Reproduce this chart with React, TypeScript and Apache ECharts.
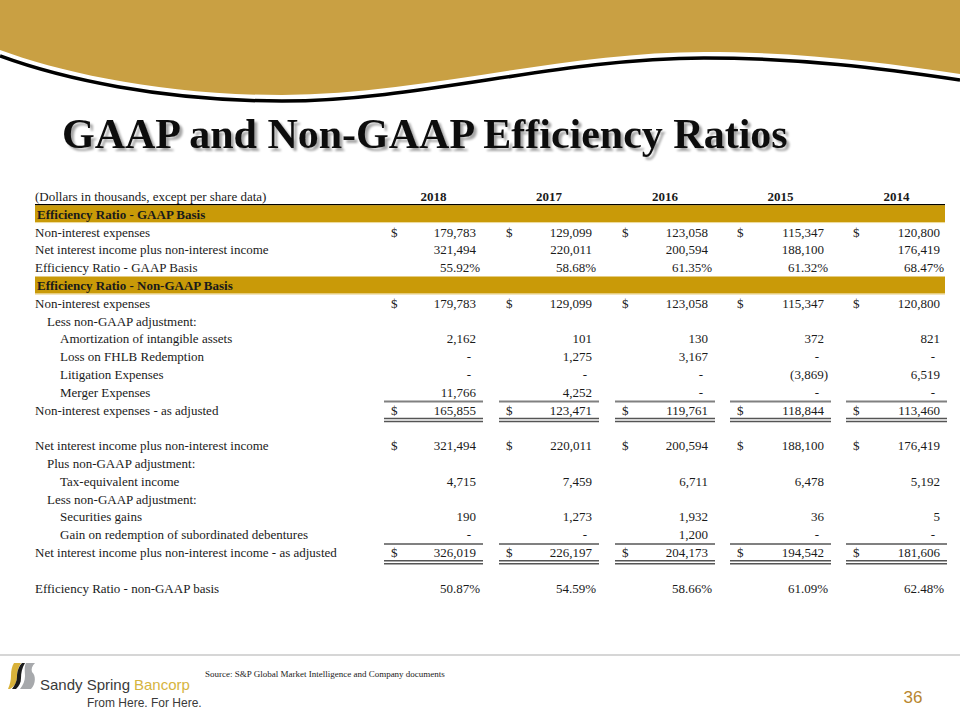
import React, { useEffect, useRef } from 'react';
import * as echarts from 'echarts';

// ---------- data ----------
const years = ['2018', '2017', '2016', '2015', '2014'];
const headerLabel = '(Dollars in thousands, except per share data)';
const nonInterestExpenses = [179783, 129099, 123058, 115347, 120800];
const netInterestIncome = [321494, 220011, 200594, 188100, 176419];
const gaapEfficiencyRatio = [55.92, 58.68, 61.35, 61.32, 68.47];
const amortizationOfIntangibles = [2162, 101, 130, 372, 821];
const lossOnFhlbRedemption = [0, 1275, 3167, 0, 0];
const litigationExpenses = [0, 0, 0, -3869, 6519];
const mergerExpenses = [11766, 4252, 0, 0, 0];
const nonInterestExpensesAdjusted = [165855, 123471, 119761, 118844, 113460];
const taxEquivalentIncome = [4715, 7459, 6711, 6478, 5192];
const securitiesGains = [190, 1273, 1932, 36, 5];
const gainOnDebentureRedemption = [0, 0, 1200, 0, 0];
const netInterestIncomeAdjusted = [326019, 226197, 204173, 194542, 181606];
const nonGaapEfficiencyRatio = [50.87, 54.59, 58.66, 61.09, 62.48];

type Kind = 'header' | 'band' | 'value' | 'text' | 'blank' | 'total' | 'percent';
type Row = { label: string; kind: Kind; values?: number[]; level?: number; dollar?: boolean };

const rows: Row[] = [
  { label: headerLabel, kind: 'header' },
  { label: 'Efficiency Ratio - GAAP Basis', kind: 'band' },
  { label: 'Non-interest expenses', kind: 'value', values: nonInterestExpenses, dollar: true },
  { label: 'Net interest income plus non-interest income', kind: 'value', values: netInterestIncome },
  { label: 'Efficiency Ratio - GAAP Basis', kind: 'percent', values: gaapEfficiencyRatio },
  { label: 'Efficiency Ratio - Non-GAAP Basis', kind: 'band' },
  { label: 'Non-interest expenses', kind: 'value', values: nonInterestExpenses, dollar: true },
  { label: 'Less non-GAAP adjustment:', kind: 'text', level: 1 },
  { label: 'Amortization of intangible assets', kind: 'value', values: amortizationOfIntangibles, level: 2 },
  { label: 'Loss on FHLB Redemption', kind: 'value', values: lossOnFhlbRedemption, level: 2 },
  { label: 'Litigation Expenses', kind: 'value', values: litigationExpenses, level: 2 },
  { label: 'Merger Expenses', kind: 'value', values: mergerExpenses, level: 2 },
  { label: 'Non-interest expenses - as adjusted', kind: 'total', values: nonInterestExpensesAdjusted, dollar: true },
  { label: '', kind: 'blank' },
  { label: 'Net interest income plus non-interest income', kind: 'value', values: netInterestIncome, dollar: true },
  { label: 'Plus non-GAAP adjustment:', kind: 'text', level: 1 },
  { label: 'Tax-equivalent income', kind: 'value', values: taxEquivalentIncome, level: 2 },
  { label: 'Less non-GAAP adjustment:', kind: 'text', level: 1 },
  { label: 'Securities gains', kind: 'value', values: securitiesGains, level: 2 },
  { label: 'Gain on redemption of subordinated debentures', kind: 'value', values: gainOnDebentureRedemption, level: 2 },
  { label: 'Net interest income plus non-interest income - as adjusted', kind: 'total', values: netInterestIncomeAdjusted, dollar: true },
  { label: '', kind: 'blank' },
  { label: 'Efficiency Ratio - non-GAAP basis', kind: 'percent', values: nonGaapEfficiencyRatio },
];

// ---------- layout (table units = px from table left) ----------
const TABLE_W = 910;
const DOLLAR_X = [356, 471, 587, 702, 818];
const NUM_RIGHT = [441, 557, 673, 789, 905];
const INDENT = [0, 12, 25];
const SERIF = '"Liberation Serif", "Times New Roman", serif';
const SANS = '"Liberation Sans", Arial, sans-serif';
const INK = '#1a1a1a';
const BAND = '#C99A08';
const FS = 13;

const fmt = (v: number) => Math.abs(v).toLocaleString('en-US');

echarts.graphic.registerShape(
  'waveFill',
  echarts.graphic.extendPath(
    'M0,0 L960,0 L960,74 C880,62 800,52 704,52 C560,52 420,95 282,95 C160,95 60,72 0,50 Z',
    {}
  )
);
echarts.graphic.registerShape(
  'waveLine',
  echarts.graphic.extendPath(
    'M0,56 C60,78 160,101 282,101 C420,101 560,58 704,58 C800,58 880,68 960,80',
    {}
  )
);
echarts.graphic.registerShape(
  'logoGold',
  echarts.graphic.extendPath(
    'M14,663 L21,663 C18,668 17,672 17,677 C17,682 15,686 10,689 L8,689 C10,684 11,680 11,676 C11,670 12,666 14,663 Z',
    {}
  )
);
echarts.graphic.registerShape(
  'logoBlack',
  echarts.graphic.extendPath(
    'M22,663 L25,663 C22,668 21,673 21,678 C21,683 19,686 16,689 L12,689 C15,685 17,681 17,677 C17,671 19,666 22,663 Z',
    {}
  )
);
echarts.graphic.registerShape(
  'logoGray',
  echarts.graphic.extendPath(
    'M26,663 L35,663 C32,666 31,669 32,672 C36,675 36,684 31,689 L20,689 C23,685 25,681 25,676 C25,671 24,667 26,663 Z',
    {}
  )
);

function textEl(text: string, x: number, y: number, o: any = {}) {
  const align = o.align || 'left';
  const style: any = {
    text,
    fill: o.fill || INK,
    fontFamily: o.family || SERIF,
    fontSize: o.size || FS,
    fontWeight: o.bold ? 'bold' : 'normal',
    textAlign: align,
    textVerticalAlign: 'middle',
    align,
    verticalAlign: 'middle',
  };
  if (o.shadow) {
    style.textShadowColor = o.shadow;
    style.textShadowBlur = 2;
    style.textShadowOffsetX = 3;
    style.textShadowOffsetY = 3;
  }
  return { type: 'text', x, y, silent: true, style };
}

export default function App() {
  const ref = useRef<HTMLDivElement>(null);

  useEffect(() => {
    if (!ref.current) return;
    const chart = echarts.init(ref.current, undefined, { renderer: 'svg' });

    const renderItem = (params: any, api: any) => {
      const idx = api.value(1);
      const row = rows[params.dataIndex];
      const [x0, yc] = api.coord([0, idx]);
      const h = api.size([0, 1])[1];
      const xAt = (v: number) => api.coord([v, idx])[0];
      const xEnd = xAt(TABLE_W);
      const top = yc - h / 2;
      const bottom = yc + h / 2;
      const children: any[] = [];

      if (row.kind === 'band') {
        children.push({ type: 'rect', shape: { x: x0, y: top, width: xEnd - x0, height: h }, style: { fill: BAND } });
        children.push({ type: 'line', shape: { x1: x0, y1: bottom - 0.5, x2: xEnd, y2: bottom - 0.5 }, style: { stroke: '#F2E2AE', lineWidth: 1 } });
        children.push(textEl(row.label, x0 + 2, yc, { bold: true }));
      } else if (row.kind === 'header') {
        children.push(textEl(row.label, x0, yc));
        years.forEach((y, j) => {
          children.push(textEl(y, (xAt(DOLLAR_X[j]) + xAt(NUM_RIGHT[j])) / 2, yc, { bold: true, align: 'center' }));
        });
        children.push({ type: 'line', shape: { x1: x0, y1: bottom - 0.5, x2: xEnd, y2: bottom - 0.5 }, style: { stroke: '#000', lineWidth: 1.5 } });
      } else if (row.kind !== 'blank') {
        children.push(textEl(row.label, x0 + INDENT[row.level || 0], yc));
        if (row.values) {
          row.values.forEach((v, j) => {
            const r = xAt(NUM_RIGHT[j]);
            if (row.dollar) children.push(textEl('$', xAt(DOLLAR_X[j]), yc));
            if (row.kind === 'percent') {
              children.push(textEl(v.toFixed(2) + '%', r + 4, yc, { align: 'right' }));
            } else if (v === 0) {
              children.push(textEl('-', r - 5, yc, { align: 'right' }));
            } else if (v < 0) {
              children.push(textEl('(' + fmt(v) + ')', r + 4, yc, { align: 'right' }));
            } else {
              children.push(textEl(fmt(v), r, yc, { align: 'right' }));
            }
            if (row.kind === 'total') {
              const a = xAt(DOLLAR_X[j] - 7);
              const b = xAt(NUM_RIGHT[j] + 7);
              children.push({ type: 'line', shape: { x1: a, y1: top + 0.5, x2: b, y2: top + 0.5 }, style: { stroke: '#808080', lineWidth: 2 } });
              children.push({ type: 'line', shape: { x1: a, y1: bottom - 0.5, x2: b, y2: bottom - 0.5 }, style: { stroke: '#555', lineWidth: 1.5 } });
              children.push({ type: 'line', shape: { x1: a, y1: bottom + 2.5, x2: b, y2: bottom + 2.5 }, style: { stroke: '#555', lineWidth: 1.5 } });
            }
          });
        }
      }
      return { type: 'group', children };
    };

    const option: any = {
      animation: false,
      backgroundColor: '#ffffff',
      grid: { left: 35, width: TABLE_W, top: 187.5, height: 409.4 },
      xAxis: { type: 'value', min: 0, max: TABLE_W, show: false },
      yAxis: {
        type: 'category',
        inverse: true,
        show: false,
        data: rows.map((_, i) => String(i)),
      },
      series: [
        {
          type: 'custom',
          clip: false,
          silent: true,
          renderItem,
          data: rows.map((_, i) => [0, i]),
        },
      ],
      graphic: [
        { type: 'waveFill', x: 0, y: 0, silent: true, style: { fill: '#C9A043' } },
        { type: 'waveLine', x: 0, y: 0, silent: true, style: { fill: 'none', stroke: '#000', lineWidth: 3.5 } },
        textEl('GAAP and Non-GAAP Efficiency Ratios', 62, 134, { size: 42, bold: true, fill: '#111', shadow: 'rgba(0,0,0,0.35)' }),
        { type: 'line', silent: true, shape: { x1: 0, y1: 655, x2: 960, y2: 655 }, style: { stroke: '#D6D6D6', lineWidth: 2 } },
        { type: 'logoGold', x: 0, y: 0, silent: true, style: { fill: '#D9B23A' } },
        { type: 'logoBlack', x: 0, y: 0, silent: true, style: { fill: '#1a1a1a' } },
        { type: 'logoGray', x: 0, y: 0, silent: true, style: { fill: '#A7A9AC' } },
        textEl('Sandy Spring', 40, 684, { family: SANS, size: 15, fill: '#3a3a3a' }),
        textEl('Bancorp', 134, 684, { family: SANS, size: 15, fill: '#D6B43E' }),
        textEl('From Here. For Here.', 87, 703, { family: SANS, size: 12, fill: '#3a3a3a' }),
        textEl('Source: S&P Global Market Intelligence and Company documents', 205, 674, { size: 9, fill: '#222' }),
        textEl('36', 913, 697, { family: SANS, size: 17, fill: '#B8862E', align: 'center' }),
      ],
    };

    chart.setOption(option);
    return () => chart.dispose();
  }, []);

  return (
    <div
      ref={ref}
      style={{ position: 'absolute', left: 0, top: 0, width: 960, height: 720, background: '#fff' }}
    />
  );
}
